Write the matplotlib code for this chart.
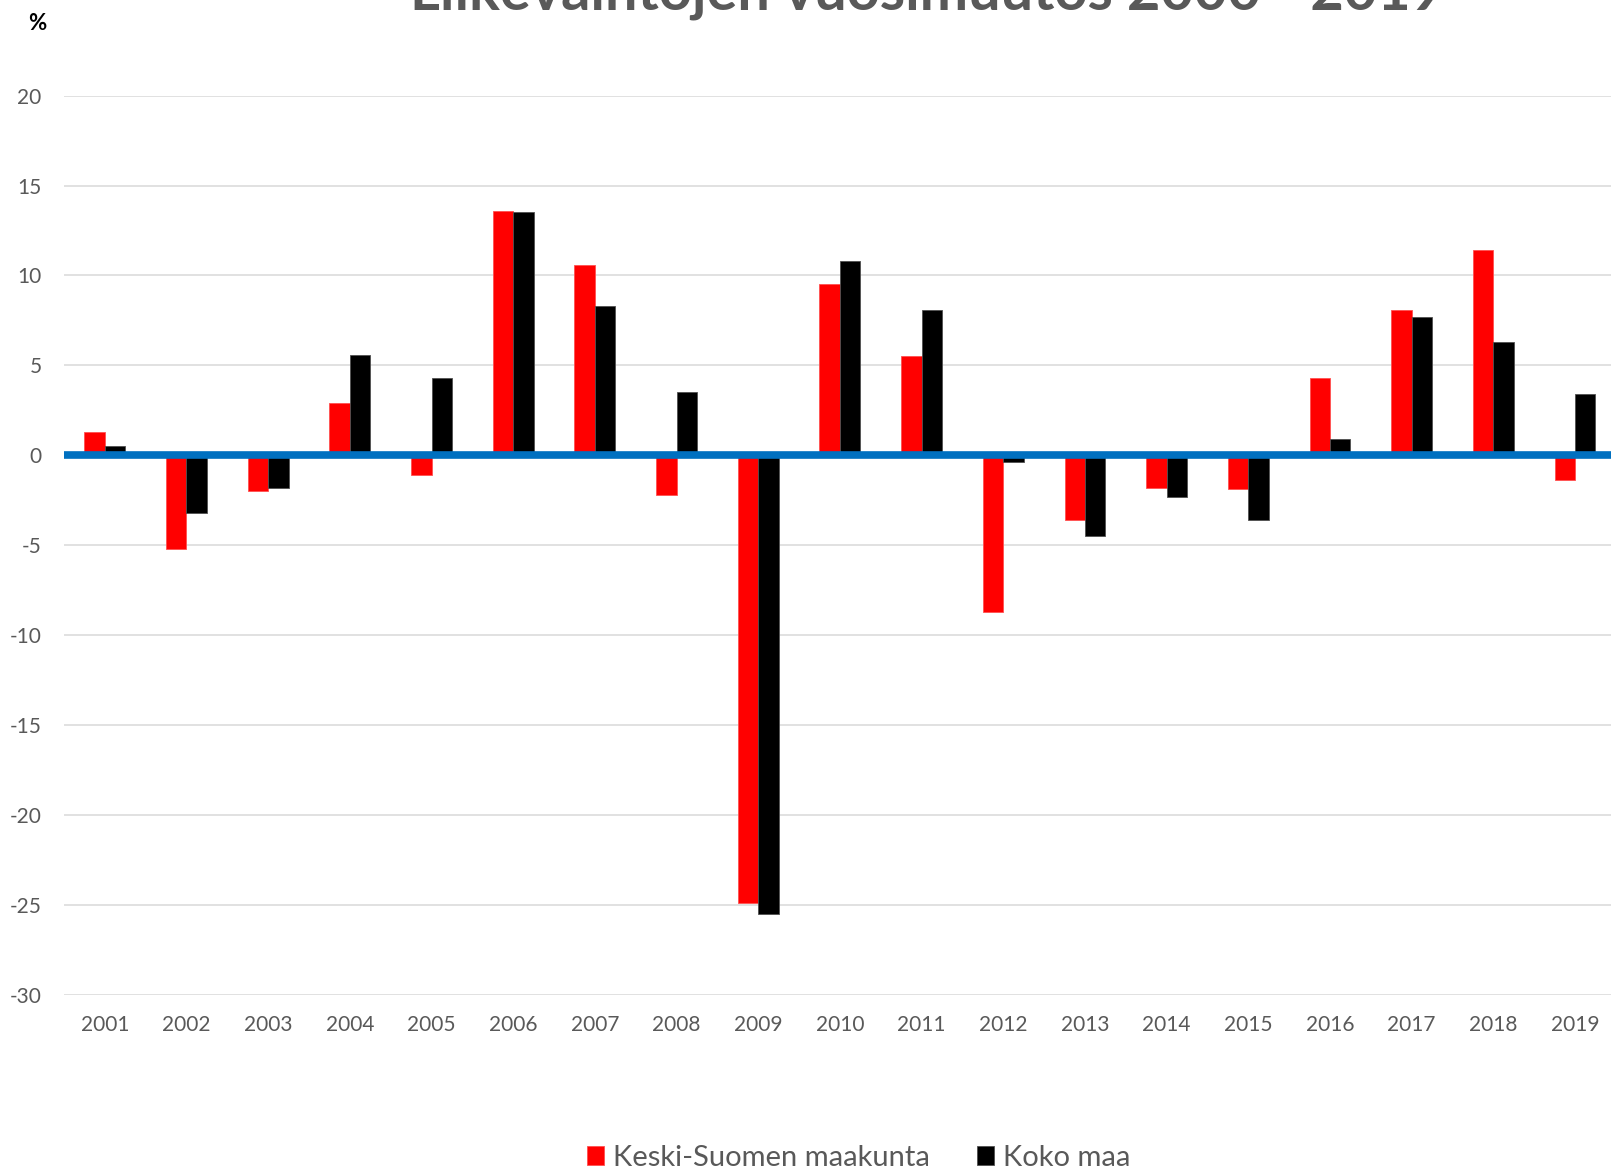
import matplotlib.pyplot as plt
import numpy as np

# Data (annual change, %)
years = [str(y) for y in range(2001, 2020)]
keski_suomi = [1.3, -5.2, -2.0, 2.9, -1.1, 13.6, 10.6, -2.2, -24.9, 9.5,
               5.5, -8.7, -3.6, -1.8, -1.9, 4.3, 8.1, 11.4, -1.4]
koko_maa = [0.5, -3.2, -1.8, 5.6, 4.3, 13.5, 8.3, 3.5, -25.5, 10.8,
            8.1, -0.4, -4.5, -2.3, -3.6, 0.9, 7.7, 6.3, 3.4]
series_names = ['Keski-Suomen maakunta', 'Koko maa']
y_ticks = [-30, -25, -20, -15, -10, -5, 0, 5, 10, 15, 20]

title = 'Liikevaihtojen vuosimuutos 2000 - 2019'

plt.rcParams['font.family'] = ['Lato', 'DejaVu Sans']
text_grey = '#595959'

fig = plt.figure(figsize=(16.11, 11.72), dpi=100)
ax = fig.add_axes([0.0397, 0.1514, 0.9633, 0.767])

x = np.arange(len(years))
w = 0.25
b1 = ax.bar(x - w / 2, keski_suomi, width=w, color='#FF0000',
            edgecolor='#FF5050', linewidth=0.6, zorder=2, label=series_names[0])
b2 = ax.bar(x + w / 2, koko_maa, width=w, color='#000000',
            edgecolor='#505050', linewidth=0.6, zorder=2, label=series_names[1])

# zero line drawn over the bars
ax.axhline(0, color='#0070C0', linewidth=5.5, zorder=3)

ax.set_xlim(-0.5, len(years) - 0.5)
ax.set_ylim(-30, 20)
ax.set_yticks(y_ticks)
ax.set_yticklabels([str(v) for v in y_ticks])
ax.set_xticks(x)
ax.set_xticklabels(years)
ax.yaxis.grid(True, color='#D9D9D9', linewidth=1.1, zorder=0)
ax.set_axisbelow(True)
for s in ax.spines.values():
    s.set_visible(False)
ax.tick_params(axis='y', length=0, pad=16, labelsize=15, labelcolor=text_grey)
ax.tick_params(axis='x', length=0, pad=15, labelsize=15, labelcolor=text_grey)

# title sits partly above the canvas, as in the original
fig.text(0.5755, 1 - 9 / 1172, title, ha='center', va='baseline',
         fontsize=41.5, fontweight='bold', color=text_grey)
fig.text(37 / 1611, 1 - 23 / 1172, '%', ha='center', va='center',
         fontsize=16, fontweight='bold', color='#000000')

leg = fig.legend(handles=[b1, b2], loc='center', ncol=2,
                 bbox_to_anchor=(0.533, 0.012), frameon=False,
                 fontsize=21, handlelength=0.6, handleheight=0.6,
                 handletextpad=0.3, columnspacing=1.6)
for t in leg.get_texts():
    t.set_color(text_grey)

fig.savefig('out.png', dpi=100, facecolor='white')
